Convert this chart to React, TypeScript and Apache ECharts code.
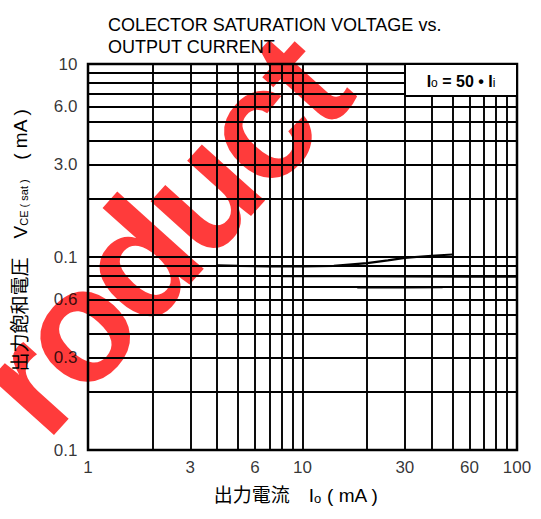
import React, { useEffect, useRef } from "react";
import * as echarts from "echarts";

// ---- text ----
const titleLines = ["COLECTOR SATURATION VOLTAGE vs.", "OUTPUT CURRENT"];
const xAxisTitle = "出力電流　I{s|o} ( mA )";
const yAxisTitle = "出力飽和電圧　V{s|CE ( sat )}　( mA )";
const legendText = "{n|I}{s|o}{n| = 50 • I}{s|i}";
const watermarkText = "roduct";

// ---- axes ----
const X_MIN = 1;
const X_MAX = 100;
const Y_MIN = 0.1;
const Y_MAX = 10;
const xTickValues = [1, 3, 6, 10, 30, 60, 100];
const xTickLabels = ["1", "3", "6", "10", "30", "60", "100"];
const yTickValues = [10, 6, 3, 1, 0.6, 0.3, 0.1];
const yTickLabels = ["10", "6.0", "3.0", "0.1", "0.6", "0.3", "0.1"];
const xGridValues = [2, 3, 4, 5, 6, 7, 8, 9, 10, 20, 30, 40, 50, 60, 70, 80, 90];
const yGridValues = [0.2, 0.3, 0.4, 0.5, 0.6, 0.7, 0.8, 0.9, 1, 2, 3, 4, 5, 6, 7, 8, 9];

// ---- curves ----
const upperCurrent = [4, 5, 7, 10, 14, 20, 25, 30, 40, 50];
const upperVoltage = [0.905, 0.9, 0.895, 0.893, 0.9, 0.93, 0.96, 0.99, 1.015, 1.03];
const lowerCurrent = [8, 15, 30, 60, 100];
const lowerVoltage = [0.795, 0.795, 0.793, 0.79, 0.79];
const segmentCurrent = [18, 30, 45];
const segmentVoltage = [0.695, 0.695, 0.697];

const FONT = '"Liberation Sans", "Noto Sans CJK JP", Arial, sans-serif';

function pairs(xs: number[], ys: number[]) {
  return xs.map((x, i) => [x, ys[i]]);
}

export default function App() {
  const ref = useRef<HTMLDivElement>(null);
  useEffect(() => {
    if (!ref.current) return;
    const chart = echarts.init(ref.current, null, { renderer: "svg" });
    const curveStyle = { color: "#000", width: 2.2 };
    chart.setOption({
      animation: false,
      title: {
        text: titleLines.join("\n"),
        left: 103,
        top: 9,
        textStyle: {
          fontFamily: FONT,
          fontSize: 18,
          fontWeight: "normal",
          color: "#000",
          lineHeight: 22,
        },
      },
      grid: {
        left: 88,
        right: 24,
        top: 64,
        bottom: 69,
        show: true,
        borderColor: "#000",
        borderWidth: 2.5,
        backgroundColor: "transparent",
      },
      xAxis: {
        type: "log",
        logBase: 10,
        min: X_MIN,
        max: X_MAX,
        axisLine: { show: false },
        axisTick: { show: false },
        axisLabel: { show: false },
        splitLine: { show: false },
      },
      yAxis: {
        type: "log",
        logBase: 10,
        min: Y_MIN,
        max: Y_MAX,
        axisLine: { show: false },
        axisTick: { show: false },
        axisLabel: { show: false },
        splitLine: { show: false },
      },
      graphic: [
        {
          type: "rect",
          x: 405,
          y: 64,
          z: 50,
          shape: { width: 112, height: 32 },
          style: { fill: "#fff", stroke: "#000", lineWidth: 2 },
        },
        {
          type: "text",
          x: 461,
          y: 81,
          z: 51,
          style: {
            text: legendText,
            align: "center",
            verticalAlign: "middle",
            rich: {
              n: { fontFamily: FONT, fontSize: 16, fontWeight: "bold", fill: "#000" },
              s: { fontFamily: FONT, fontSize: 12, fill: "#000", verticalAlign: "bottom" },
            },
          },
        },
        {
          type: "text",
          x: 296,
          y: 495,
          z: 51,
          style: {
            text: xAxisTitle,
            align: "center",
            verticalAlign: "middle",
            fontFamily: FONT,
            fontSize: 19,
            fill: "#000",
            rich: {
              s: { fontFamily: FONT, fontSize: 13, fill: "#000", verticalAlign: "bottom" },
            },
          },
        },
        {
          type: "text",
          x: 20,
          y: 240,
          z: 51,
          rotation: Math.PI / 2,
          style: {
            text: yAxisTitle,
            align: "center",
            verticalAlign: "middle",
            fontFamily: FONT,
            fontSize: 19,
            fill: "#000",
            rich: {
              s: { fontFamily: FONT, fontSize: 11, fill: "#000", verticalAlign: "bottom" },
            },
          },
        },
      ],
      series: [
        {
          type: "line",
          name: "upper",
          data: pairs(upperCurrent, upperVoltage),
          showSymbol: false,
          symbol: "none",
          lineStyle: curveStyle,
          z: 10,
          silent: true,
          markLine: {
            z: 10,
            silent: true,
            symbol: ["none", "none"],
            label: { show: false },
            lineStyle: { color: "#000", width: 1.9, type: "solid" },
            emphasis: { disabled: true },
            data: [
              ...xGridValues.map((v) => ({ xAxis: v })),
              ...yGridValues.map((v) => ({ yAxis: v })),
            ],
          },
        },
        {
          type: "line",
          name: "lower",
          data: pairs(lowerCurrent, lowerVoltage),
          showSymbol: false,
          symbol: "none",
          lineStyle: curveStyle,
          z: 10,
          silent: true,
        },
        {
          type: "line",
          name: "segment",
          data: pairs(segmentCurrent, segmentVoltage),
          showSymbol: false,
          symbol: "none",
          lineStyle: curveStyle,
          z: 10,
          silent: true,
        },
        {
          type: "scatter",
          name: "xTicks",
          data: xTickValues.map((v) => [v, Y_MIN]),
          symbolSize: 1,
          itemStyle: { color: "transparent" },
          clip: false,
          silent: true,
          z: 20,
          label: {
            show: true,
            position: "bottom",
            distance: 8,
            color: "#000",
            fontFamily: FONT,
            fontSize: 17,
            formatter: (p: any) => xTickLabels[p.dataIndex],
          },
        },
        {
          type: "scatter",
          name: "yTicks",
          data: yTickValues.map((v) => [X_MIN, v]),
          symbolSize: 1,
          itemStyle: { color: "transparent" },
          clip: false,
          silent: true,
          z: 20,
          label: {
            show: true,
            position: "left",
            distance: 10,
            color: "#000",
            fontFamily: FONT,
            fontSize: 17,
            formatter: (p: any) => yTickLabels[p.dataIndex],
          },
        },
      ],
    });
    return () => chart.dispose();
  }, []);
  return (
    <div style={{ position: "fixed", left: 0, top: 0, width: 541, height: 519, background: "#fff", overflow: "hidden" }}>
      <div
        style={{
          position: "absolute",
          left: 160,
          top: 235,
          transform: "translate(-50%, -50%) rotate(-48deg)",
          font: 'bold 160px "Liberation Sans", Arial, sans-serif',
          color: "rgba(255,25,25,0.85)",
          whiteSpace: "nowrap",
          lineHeight: 1,
          letterSpacing: -6,
        }}
      >
        {watermarkText}
      </div>
      <div
        ref={ref}
        style={{ position: "absolute", left: 0, top: 0, width: 541, height: 519 }}
      />
    </div>
  );
}
